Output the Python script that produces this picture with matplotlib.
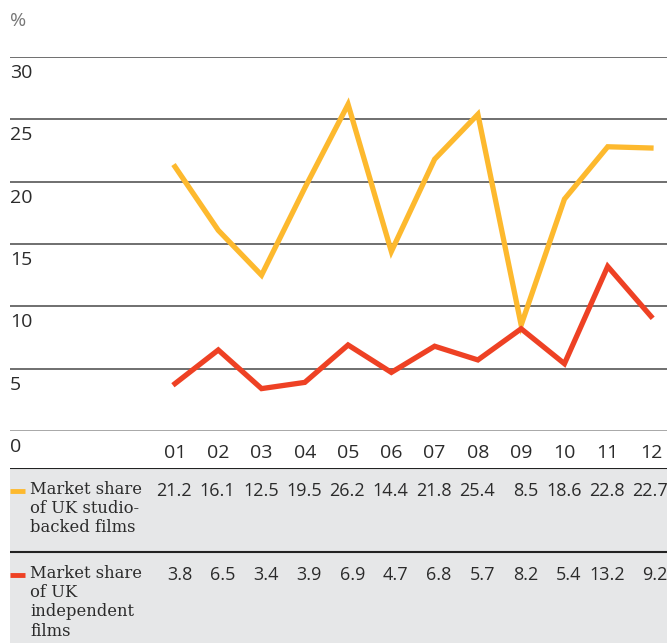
import numpy as np
import matplotlib
matplotlib.use("Agg")
import matplotlib.pyplot as plt

# data
years = ["01", "02", "03", "04", "05", "06", "07", "08", "09", "10", "11", "12"]
studio = [21.2, 16.1, 12.5, 19.5, 26.2, 14.4, 21.8, 25.4, 8.5, 18.6, 22.8, 22.7]
indep = [3.8, 6.5, 3.4, 3.9, 6.9, 4.7, 6.8, 5.7, 8.2, 5.4, 13.2, 9.2]
yticks = [0, 5, 10, 15, 20, 25, 30]
studio_label = "Market share\nof UK studio-\nbacked films"
indep_label = "Market share\nof UK\nindependent\nfilms"

yellow = "#FDB92E"
red = "#EE4124"
txt = "#2b2b2b"
sans = "Open Sans"
serif = "DejaVu Serif"

W, H = 667, 643
fig = plt.figure(figsize=(W / 100, H / 100), dpi=100)

def fx(px):
    return px / W

def fy(px):
    return 1 - px / H

# chart area: gridline at 30 -> y=57px, 0 -> y=431px
left, right = 10, 667
ax = fig.add_axes([fx(left), fy(431), fx(right - left), fy(57) - fy(431)])
x = np.arange(len(years))
step = 43.27
xlo = (left - 175) / step
xhi = (right - 175) / step
ax.set_xlim(xlo, xhi)
ax.set_ylim(0, 30)
for s in ax.spines.values():
    s.set_visible(False)
ax.set_xticks([])
ax.set_yticks([])

for v in yticks:
    ax.axhline(v, color="#a8a8a8" if v == 0 else "#6f6f6f", lw=1.4, zorder=1)
    ax.annotate(str(v), xy=(0, v), xycoords=("axes fraction", "data"),
                xytext=(0, -5), textcoords="offset points",
                ha="left", va="top", fontsize=14, family=sans, color=txt)

ax.plot(x, studio, color=yellow, lw=3.8, zorder=3, solid_joinstyle="miter", clip_on=False)
ax.plot(x, indep, color=red, lw=3.8, zorder=4, solid_joinstyle="miter", clip_on=False)

fig.text(fx(10), fy(21), "%", ha="left", va="center", fontsize=14, family=sans, color="#777777")

# x labels
for i, yr in enumerate(years):
    ax.annotate(yr, xy=(i, 0), xycoords="data", xytext=(0, -9), textcoords="offset points",
                ha="center", va="top", fontsize=14, family=sans, color=txt)

# table
tab = fig.add_axes([fx(left), 0, fx(right - left), fy(468)])
tab.set_xlim(xlo, xhi)
tab.set_ylim(643, 468)
tab.axis("off")
tab.axhspan(468, 643, color="#e6e7e8", zorder=0)
tab.axhline(468, color="#222222", lw=1.5)
tab.axhline(552, color="#222222", lw=1.5)

rows = [(studio, studio_label, yellow, 491), (indep, indep_label, red, 575)]
for vals, label, col, ypx in rows:
    tab.plot([xlo, xlo + 15 / step], [ypx, ypx], color=col, lw=3.5, solid_capstyle="butt")
    tab.text(xlo + 20 / step, ypx - 10, label, ha="left", va="top", fontsize=11.8,
             family=serif, color=txt, linespacing=1.17)
    for i, v in enumerate(vals):
        tab.text(i + 17 / step, ypx, f"{v:.1f}", ha="right", va="center",
                 fontsize=13, family=sans, color=txt)

fig.savefig("out.png", dpi=100)
